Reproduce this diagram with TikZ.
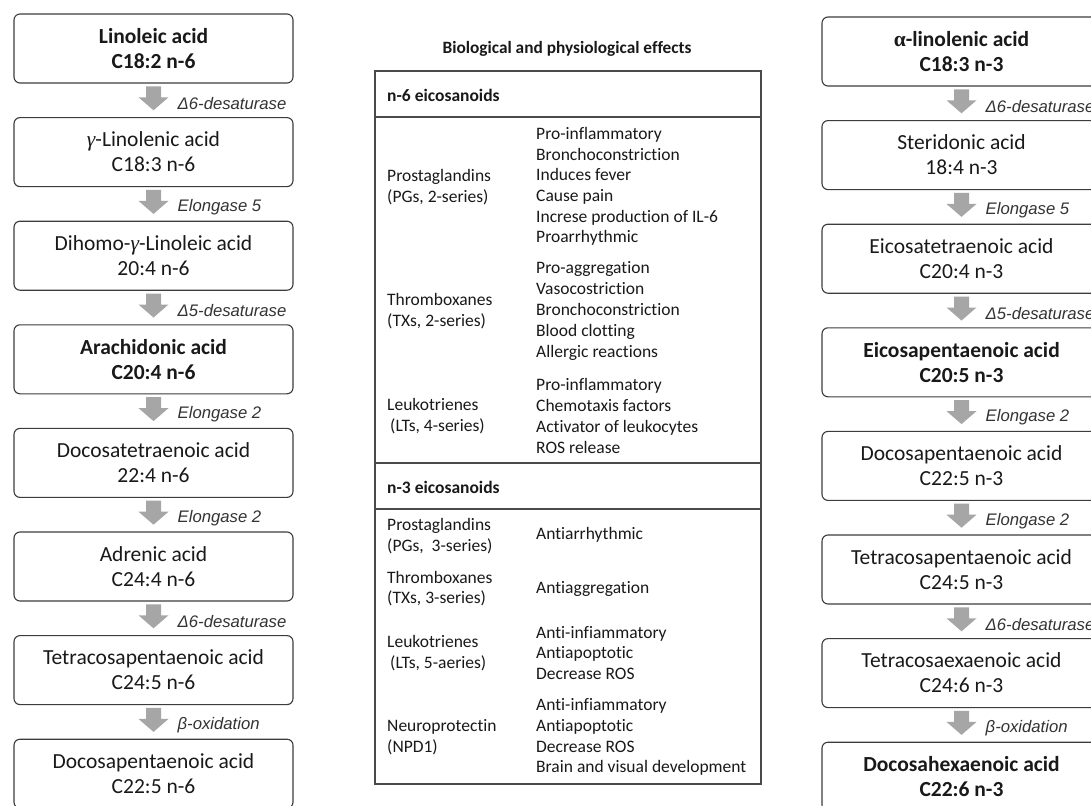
\documentclass[tikz,border=0pt]{standalone}
\usepackage{fontspec}
\setmainfont{Carlito}[Ligatures=NoCommon]
\newfontfamily\arialf{Liberation Sans}
\newfontfamily\serifg{Liberation Serif}
\usetikzlibrary{calc}
\definecolor{agray}{HTML}{A6A6A6}
\definecolor{bline}{HTML}{3C3C3C}
\definecolor{tline}{HTML}{4A4A4A}
\tikzset{
  fabox/.style={draw=bline, line width=1.1pt, rounded corners=6pt, minimum width=279pt,
    minimum height=69pt, align=center, inner sep=0pt, fill=white,
    font=\fontsize{21.5}{25}\selectfont, text=black!90},
  enzlab/.style={font=\arialf\itshape\fontsize{16.7}{19}\selectfont, text=black!80, inner sep=0pt, anchor=west},
  tabtxt/.style={font=\fontsize{17.5}{20.6}\selectfont, align=left, inner sep=0pt, anchor=west, text=black!90},
  tabhead/.style={font=\bfseries\fontsize{17.5}{20.6}\selectfont, inner sep=0pt, anchor=west, text=black!90}
}
\newcommand\convarrow[4]{%
  \coordinate (m#4) at ($(#1.south)!0.5!(#2.north)$);
  \fill[agray] ($(m#4)+(-7.5,-14)$) -- ($(m#4)+(7.5,-14)$) -- ($(m#4)+(7.5,-3)$) --
     ($(m#4)+(15,-3)$) -- ($(m#4)+(0,10)$) -- ($(m#4)+(-15,-3)$) -- ($(m#4)+(-7.5,-3)$) -- cycle;
  \node[enzlab] (l#4) at ($(m#4)+(24,3)$) {#3};
}
\begin{document}
\begin{tikzpicture}[x=1pt,y=-1pt]
\useasboundingbox (0,0) rectangle (1091,805);
\clip (0,0) rectangle (1091,805);
\fill[white] (0,0) rectangle (1091,805);

% left column (n-6)
\node[fabox] (L1) at (153.5,48.5) {\bfseries Linoleic acid\\\bfseries C18:2 n-6};
\node[fabox] (L2) at (153.5,152.1) {{\serifg\itshape γ}-Linolenic acid\\C18:3 n-6};
\node[fabox] (L3) at (153.5,255.7) {Dihomo-{\serifg\itshape γ}-Linoleic acid\\20:4 n-6};
\node[fabox] (L4) at (153.5,359.3) {\bfseries Arachidonic acid\\\bfseries C20:4 n-6};
\node[fabox] (L5) at (153.5,462.9) {Docosatetraenoic acid\\22:4 n-6};
\node[fabox] (L6) at (153.5,566.5) {Adrenic acid\\C24:4 n-6};
\node[fabox] (L7) at (153.5,670.1) {Tetracosapentaenoic acid\\C24:5 n-6};
\node[fabox] (L8) at (153.5,773.7) {Docosapentaenoic acid\\C22:5 n-6};

\convarrow{L1}{L2}{Δ6-desaturase}{a1}
\convarrow{L2}{L3}{Elongase 5}{a2}
\convarrow{L3}{L4}{Δ5-desaturase}{a3}
\convarrow{L4}{L5}{Elongase 2}{a4}
\convarrow{L5}{L6}{Elongase 2}{a5}
\convarrow{L6}{L7}{Δ6-desaturase}{a6}
\convarrow{L7}{L8}{β-oxidation}{a7}

% right column (n-3)
\node[fabox] (R1) at (961.5,51.5) {\bfseries{\serifg α}-linolenic acid\\\bfseries C18:3 n-3};
\node[fabox] (R2) at (961.5,155.1) {Steridonic acid\\18:4 n-3};
\node[fabox] (R3) at (961.5,258.7) {Eicosatetraenoic acid\\C20:4 n-3};
\node[fabox] (R4) at (961.5,362.3) {\bfseries Eicosapentaenoic acid\\\bfseries C20:5 n-3};
\node[fabox] (R5) at (961.5,465.9) {Docosapentaenoic acid\\C22:5 n-3};
\node[fabox] (R6) at (961.5,569.5) {Tetracosapentaenoic acid\\C24:5 n-3};
\node[fabox] (R7) at (961.5,673.1) {Tetracosaexaenoic acid\\C24:6 n-3};
\node[fabox] (R8) at (961.5,776.7) {\bfseries Docosahexaenoic acid\\\bfseries C22:6 n-3};

\convarrow{R1}{R2}{Δ6-desaturase}{b1}
\convarrow{R2}{R3}{Elongase 5}{b2}
\convarrow{R3}{R4}{Δ5-desaturase}{b3}
\convarrow{R4}{R5}{Elongase 2}{b4}
\convarrow{R5}{R6}{Elongase 2}{b5}
\convarrow{R6}{R7}{Δ6-desaturase}{b6}
\convarrow{R7}{R8}{β-oxidation}{b7}

% middle table
\node[font=\bfseries\fontsize{17.3}{20}\selectfont, inner sep=0pt, text=black!90] (title) at (567,49) {Biological and physiological effects};
\draw[tline, line width=1.4pt] (375,71) rectangle (761,784);
\draw[tline, line width=1.4pt] (375,117) -- (761,117);
\draw[tline, line width=1.4pt] (375,463) -- (761,463);
\draw[tline, line width=1.4pt] (375,509) -- (761,509);

\node[tabhead] (h6) at (387,95) {n-6 eicosanoids};
\node[tabtxt] (pg6) at (387,187) {Prostaglandins\\(PGs, 2-series)};
\node[tabtxt] (pg6e) at (536,186.5) {Pro-inflammatory\\Bronchoconstriction\\Induces fever\\Cause pain\\Increse production of IL-6\\Proarrhythmic};
\node[tabtxt] (tx6) at (387,311) {Thromboxanes\\(TXs, 2-series)};
\node[tabtxt, font=\fontsize{17.5}{21}\selectfont] (tx6e) at (536,311) {Pro-aggregation\\Vasocostriction\\Bronchoconstriction\\Blood clotting\\Allergic reactions};
\node[tabtxt] (lt6) at (387,416) {Leukotrienes\\\hspace*{3pt}(LTs, 4-series)};
\node[tabtxt, font=\fontsize{17.5}{21}\selectfont] (lt6e) at (536,415.5) {Pro-inflammatory\\Chemotaxis factors\\Activator of leukocytes\\ROS release};

\node[tabhead] (h3) at (387,487) {n-3 eicosanoids};
\node[tabtxt] (pg3) at (387,536) {Prostaglandins\\(PGs,\ \ 3-series)};
\node[tabtxt] (pg3e) at (536,535) {Antiarrhythmic};
\node[tabtxt] (tx3) at (387,588.5) {Thromboxanes\\(TXs, 3-series)};
\node[tabtxt] (tx3e) at (536,589) {Antiaggregation};
\node[tabtxt] (lt3) at (387,653) {Leukotrienes\\\hspace*{3pt}(LTs, 5-aeries)};
\node[tabtxt] (lt3e) at (536,653) {Anti-infiammatory\\Antiapoptotic\\Decrease ROS};
\node[tabtxt] (npd) at (387,737) {Neuroprotectin\\(NPD1)};
\node[tabtxt, font=\fontsize{17.5}{20.8}\selectfont] (npde) at (536,737) {Anti-infiammatory\\Antiapoptotic\\Decrease ROS\\Brain and visual development};
\end{tikzpicture}
\end{document}
